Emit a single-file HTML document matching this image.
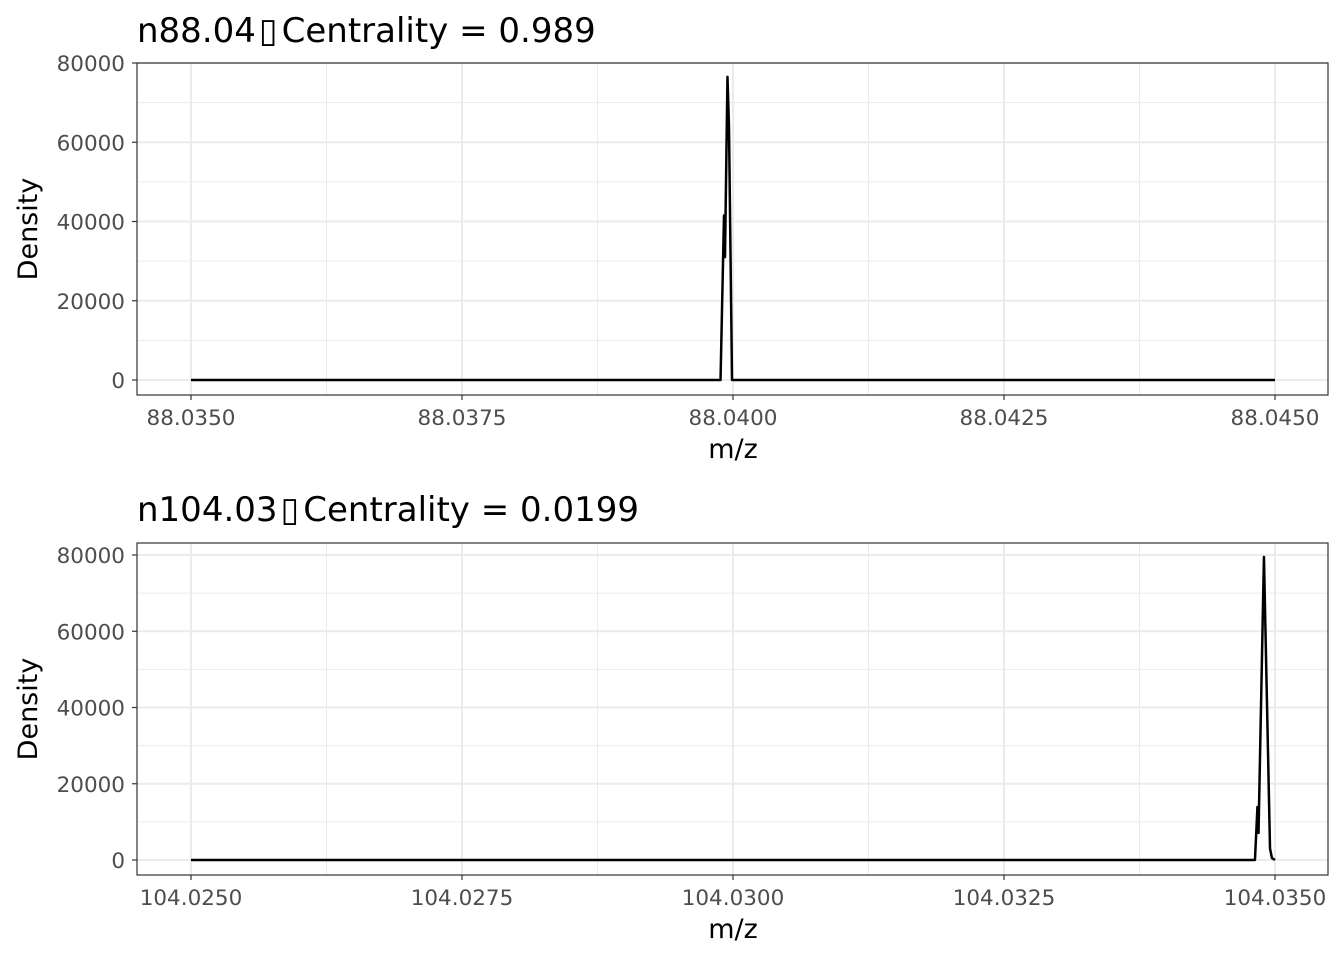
<!DOCTYPE html>
<html><head><meta charset="utf-8"><style>
body{margin:0;background:#fff}
svg{display:block;font-family:"DejaVu Sans","Liberation Sans",sans-serif}
</style></head><body>
<svg id="s" width="1344" height="960" xmlns="http://www.w3.org/2000/svg"></svg>
<script>
const titlesA=["n88.04","n104.03"];
const titlesB=["Centrality = 0.989","Centrality = 0.0199"];
const xTicks1=[88.035,88.0375,88.04,88.0425,88.045];
const xTickLabels1=["88.0350","88.0375","88.0400","88.0425","88.0450"];
const xTicks2=[104.025,104.0275,104.03,104.0325,104.035];
const xTickLabels2=["104.0250","104.0275","104.0300","104.0325","104.0350"];
const yTicks=[0,20000,40000,60000,80000];
const mz1=[88.035,88.039885,88.039917,88.039926,88.039949,88.039963,88.039991,88.045];
const dens1=[0,0,41500,31000,76500,64000,0,0];
const mz2=[104.025,104.034815,104.034838,104.034848,104.034898,104.034954,104.034972,104.035];
const dens2=[0,0,13900,7100,79500,3000,500,0];

const NS="http://www.w3.org/2000/svg";
const svg=document.getElementById('s');
function el(t,a,p){const e=document.createElementNS(NS,t);for(const k in a)e.setAttribute(k,a[k]);(p||svg).appendChild(e);return e;}
const panels=[
 {top:63,bot:395,y0:380,y80:63,xt:xTicks1,xl:xTickLabels1,mz:mz1,d:dens1,ty:42,ta:titlesA[0],tb:titlesB[0]},
 {top:543,bot:875,y0:860,y80:555,xt:xTicks2,xl:xTickLabels2,mz:mz2,d:dens2,ty:521,ta:titlesA[1],tb:titlesB[1]}
];
const L=137,R=1328;
panels.forEach((p,i)=>{
 const g=el('g',{});
 
 
 const xmin=p.xt[0],xmax=p.xt[p.xt.length-1];
 const X=v=>191+(v-xmin)/(xmax-xmin)*1084;
 const Y=v=>p.y0+(v/80000)*(p.y80-p.y0);
 for(let k=0;k<p.xt.length-1;k++){const x=(X(p.xt[k])+X(p.xt[k+1]))/2;el('line',{x1:x,x2:x,y1:p.top,y2:p.bot,stroke:'#ebebeb','stroke-width':1},g);}
 for(let k=0;k<yTicks.length-1;k++){const y=(Y(yTicks[k])+Y(yTicks[k+1]))/2;el('line',{x1:L,x2:R,y1:y,y2:y,stroke:'#ebebeb','stroke-width':1},g);}
 p.xt.forEach(v=>el('line',{x1:X(v),x2:X(v),y1:p.top,y2:p.bot,stroke:'#ebebeb','stroke-width':2},g));
 yTicks.forEach(v=>el('line',{x1:L,x2:R,y1:Y(v),y2:Y(v),stroke:'#ebebeb','stroke-width':2},g));
 const pts=p.mz.map((m,k)=>X(m).toFixed(2)+','+Y(p.d[k]).toFixed(2)).join(' ');
 const pl=el('polyline',{points:pts,fill:'none',stroke:'#000','stroke-width':2.5,'stroke-linejoin':'round'},g);
 
 
 el('rect',{x:L,y:p.top,width:R-L,height:p.bot-p.top,fill:'none',stroke:'#333','stroke-width':1.2},g);
 p.xt.forEach((v,k)=>{el('line',{x1:X(v),x2:X(v),y1:p.bot,y2:p.bot+5,stroke:'#333','stroke-width':1.2},g);
  const t=el('text',{x:X(v),y:p.bot+30,'text-anchor':'middle','font-size':21.5,fill:'#4d4d4d'},g);t.textContent=p.xl[k];
  });
 yTicks.forEach(v=>{el('line',{x1:L-5,x2:L,y1:Y(v),y2:Y(v),stroke:'#333','stroke-width':1.2},g);
  const t=el('text',{x:L-12,y:Y(v)+8,'text-anchor':'end','font-size':21.5,fill:'#4d4d4d'},g);t.textContent=v;
  });
 const xt=el('text',{x:733,y:p.bot+63,'text-anchor':'middle','font-size':27,fill:'#000'},g);xt.textContent='m/z';
 
 const cy=(p.top+p.bot)/2;
 const yt=el('text',{x:37,y:cy,'text-anchor':'middle','font-size':27,fill:'#000',transform:`rotate(-90 37 ${cy})`},g);yt.textContent='Density';
 
 const tt=el('text',{x:137,y:p.ty,'font-size':34,fill:'#000'},g);
 
 const s1=el('tspan',{},tt);s1.textContent=p.ta;
 const s2=el('tspan',{dx:3},tt);s2.textContent='\u25AF';
 const s3=el('tspan',{dx:4},tt);s3.textContent=p.tb;
});
</script>
</body></html>
